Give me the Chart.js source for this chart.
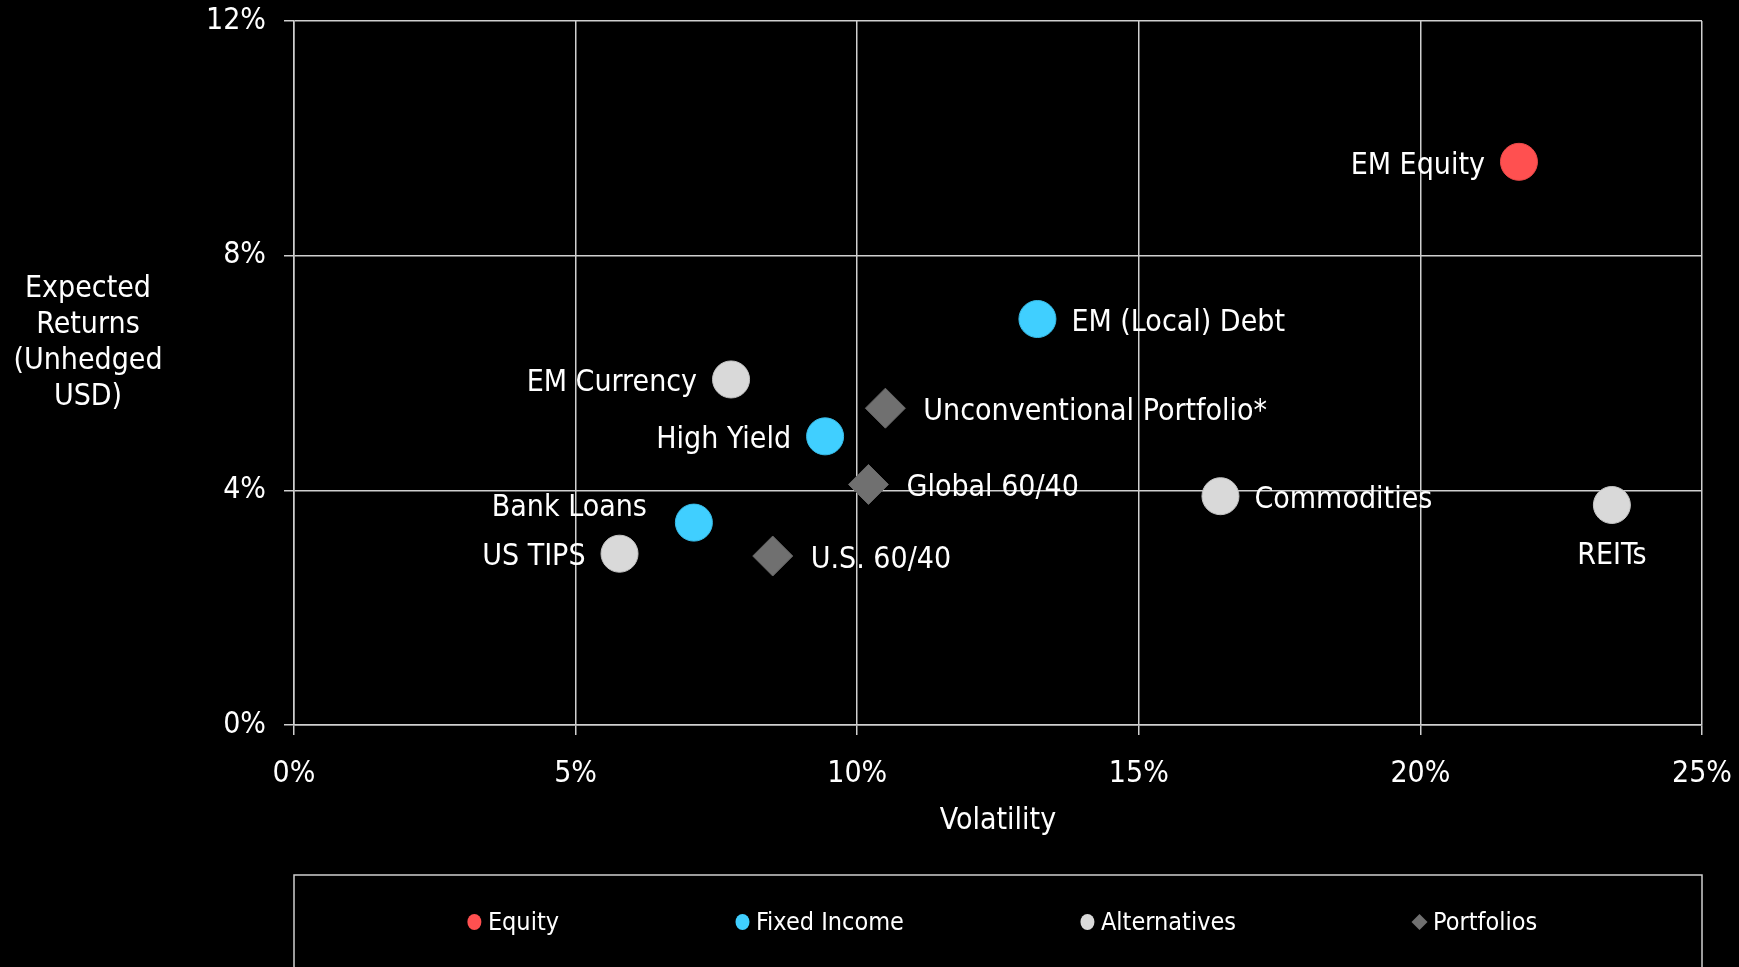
<!DOCTYPE html>
<html>
<head>
<meta charset="utf-8">
<script src="https://cdn.jsdelivr.net/npm/chart.js@4.4.1/dist/chart.umd.min.js"></script>
<style>
  html, body { margin: 0; padding: 0; background: #000; }
  #wrap { width: 1739px; height: 967px; }
</style>
</head>
<body>
<div id="wrap"><canvas id="riskChart"></canvas></div>
<script>
// Expected returns vs. volatility, in percent
const equityNames = ["EM Equity"];
const equityVol = [21.75];
const equityRet = [9.6];

const fixedIncomeNames = ["EM (Local) Debt", "High Yield", "Bank Loans"];
const fixedIncomeVol = [13.2, 9.43, 7.1];
const fixedIncomeRet = [6.92, 4.92, 3.45];

const alternativesNames = ["EM Currency", "Commodities", "REITs", "US TIPS"];
const alternativesVol = [7.76, 16.45, 23.4, 5.78];
const alternativesRet = [5.89, 3.9, 3.75, 2.92];

const portfolioNames = ["Unconventional Portfolio*", "Global 60/40", "U.S. 60/40"];
const portfolioVol = [10.5, 10.2, 8.5];
const portfolioRet = [5.4, 4.1, 2.88];

const xTicks = [0, 5, 10, 15, 20, 25];
const yTicks = [0, 4, 8, 12];
const xTitle = "Volatility";
const yTitleLines = ["Expected", "Returns", "(Unhedged", "USD)"];

const FONT = "'Liberation Sans Narrow', 'DejaVu Sans Condensed', sans-serif";
const GRID = "#cfcfcf";

// where each point's name sits relative to its marker
const labelSide = {
  "EM Equity": "left",
  "EM (Local) Debt": "right",
  "EM Currency": "left",
  "Unconventional Portfolio*": "right",
  "High Yield": "left",
  "Global 60/40": "right",
  "Commodities": "right",
  "REITs": "below",
  "Bank Loans": "aboveLeft",
  "US TIPS": "left",
  "U.S. 60/40": "right",
};

function toPoints(xs, ys) {
  return xs.map((x, i) => ({ x: x, y: ys[i] }));
}

const pointLabels = {
  id: "pointLabels",
  afterDatasetsDraw(chart) {
    const ctx = chart.ctx;
    ctx.save();
    ctx.font = "30px " + FONT;
    ctx.fillStyle = "#ffffff";
    ctx.textBaseline = "middle";
    chart.data.datasets.forEach((ds, i) => {
      const meta = chart.getDatasetMeta(i);
      const gap = ds.pointStyle === "rectRot" ? 38 : 34;
      meta.data.forEach((pt, j) => {
        const name = ds.names[j];
        const side = labelSide[name];
        let x = pt.x, y = pt.y + 4;
        if (side === "left") {
          ctx.textAlign = "right";
          x -= gap;
        } else if (side === "right") {
          ctx.textAlign = "left";
          x += gap;
        } else if (side === "below") {
          ctx.textAlign = "center";
          y += 47;
        } else {
          ctx.textAlign = "right";
          x -= 47;
          y -= 18;
        }
        ctx.fillText(name, x, y);
      });
    });
    ctx.restore();
  },
};

const sideTitle = {
  id: "sideTitle",
  afterDraw(chart) {
    const ctx = chart.ctx;
    const area = chart.chartArea;
    ctx.save();
    ctx.font = "30px " + FONT;
    ctx.fillStyle = "#ffffff";
    ctx.textAlign = "center";
    ctx.textBaseline = "middle";
    yTitleLines.forEach((line, i) => {
      ctx.fillText(line, area.left - 206, area.top + 268 + i * 36);
    });
    ctx.restore();
  },
};

const boxedLegend = {
  id: "boxedLegend",
  afterDraw(chart) {
    const ctx = chart.ctx;
    const area = chart.chartArea;
    const top = chart.height - 92;
    const midY = top + 47;
    ctx.save();
    ctx.strokeStyle = GRID;
    ctx.lineWidth = 1.5;
    ctx.strokeRect(area.left, top, area.right - area.left, 120);

    ctx.font = "25px " + FONT;
    ctx.textBaseline = "middle";
    ctx.textAlign = "left";
    const items = chart.data.datasets.map((ds) => ({
      text: ds.label,
      color: ds.backgroundColor,
      style: ds.pointStyle,
      width: 21 + ctx.measureText(ds.label).width,
    }));
    const spacing = 176;
    const total = items.reduce((s, it) => s + it.width, 0) + spacing * (items.length - 1);
    let x = (area.left + area.right) / 2 - total / 2 + 4;
    items.forEach((it) => {
      const cx = x + 7.5;
      ctx.fillStyle = it.color;
      ctx.beginPath();
      if (it.style === "rectRot") {
        ctx.moveTo(cx, midY - 8);
        ctx.lineTo(cx + 8, midY);
        ctx.lineTo(cx, midY + 8);
        ctx.lineTo(cx - 8, midY);
        ctx.closePath();
      } else {
        ctx.ellipse(cx, midY, 7, 8, 0, 0, Math.PI * 2);
      }
      ctx.fill();
      ctx.fillStyle = "#ffffff";
      ctx.fillText(it.text, x + 21, midY + 1);
      x += it.width + spacing;
    });
    ctx.restore();
  },
};

Chart.defaults.font.family = FONT;
Chart.defaults.color = "#ffffff";

new Chart(document.getElementById("riskChart"), {
  type: "scatter",
  data: {
    datasets: [
      {
        label: "Equity",
        names: equityNames,
        data: toPoints(equityVol, equityRet),
        backgroundColor: "#ff5050",
        borderColor: "#e84848",
        pointStyle: "circle",
        pointRadius: 18.5,
      },
      {
        label: "Fixed Income",
        names: fixedIncomeNames,
        data: toPoints(fixedIncomeVol, fixedIncomeRet),
        backgroundColor: "#40cfff",
        borderColor: "#38bce8",
        pointStyle: "circle",
        pointRadius: 18.5,
      },
      {
        label: "Alternatives",
        names: alternativesNames,
        data: toPoints(alternativesVol, alternativesRet),
        backgroundColor: "#d9d9d9",
        borderColor: "#c4c4c4",
        pointStyle: "circle",
        pointRadius: 18.5,
      },
      {
        label: "Portfolios",
        names: portfolioNames,
        data: toPoints(portfolioVol, portfolioRet),
        backgroundColor: "#707070",
        borderColor: "#666666",
        pointStyle: "rectRot",
        pointRadius: 20,
      },
    ],
  },
  options: {
    responsive: true,
    maintainAspectRatio: false,
    animation: false,
    events: [],
    layout: { padding: { top: 20, right: 37, bottom: 92, left: 0 } },
    elements: { point: { borderWidth: 1 } },
    plugins: {
      legend: { display: false },
      tooltip: { enabled: false },
    },
    scales: {
      x: {
        type: "linear",
        min: xTicks[0],
        max: xTicks[xTicks.length - 1],
        afterBuildTicks: (scale) => {
          scale.ticks = xTicks.map((v) => ({ value: v }));
        },
        afterFit: (scale) => {
          // fixed band under the plot; end labels may overhang
          scale.height = 150;
          scale.paddingLeft = 0;
          scale.paddingRight = 0;
        },
        grid: { color: GRID, lineWidth: 1.5, tickLength: 10 },
        border: { color: GRID, width: 1.5 },
        ticks: {
          padding: 21,
          font: { size: 30, lineHeight: 1.2 },
          color: "#ffffff",
          maxRotation: 0,
          callback: (v) => v + "%",
        },
        title: {
          display: true,
          text: xTitle,
          color: "#ffffff",
          font: { size: 30, lineHeight: 1.2 },
          padding: { top: 0, bottom: 36 },
        },
      },
      y: {
        type: "linear",
        min: yTicks[0],
        max: yTicks[yTicks.length - 1],
        afterBuildTicks: (scale) => {
          scale.ticks = yTicks.map((v) => ({ value: v }));
        },
        afterFit: (scale) => {
          scale.width = 294;
          scale.paddingTop = 0;
          scale.paddingBottom = 0;
        },
        grid: { color: GRID, lineWidth: 1.5, tickLength: 10 },
        border: { color: GRID, width: 1.5 },
        ticks: {
          padding: 18,
          font: { size: 30, lineHeight: 1 },
          color: "#ffffff",
          callback: (v) => v + "%",
        },
      },
    },
  },
  plugins: [pointLabels, sideTitle, boxedLegend],
});
</script>
</body>
</html>
